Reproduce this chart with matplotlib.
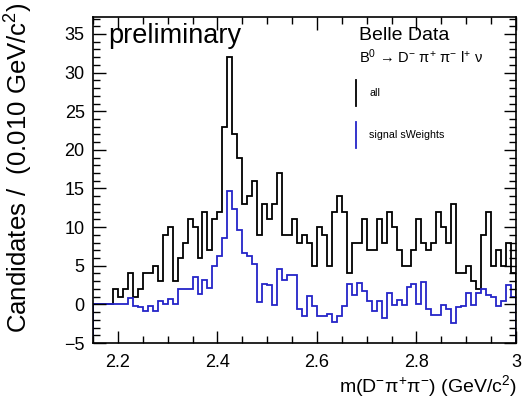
import numpy as np
import matplotlib
matplotlib.use("Agg")
from matplotlib import pyplot as plt
from matplotlib.ticker import MultipleLocator

plt.rcParams['font.family'] = ['Liberation Sans', 'DejaVu Sans']
plt.rcParams['mathtext.fontset'] = 'custom'
plt.rcParams['mathtext.rm'] = 'Liberation Sans'
plt.rcParams['mathtext.it'] = 'Liberation Sans:italic'
plt.rcParams['mathtext.sf'] = 'Liberation Sans'

# m(D pi pi) histogram, 0.010 GeV bins from 2.15 to 3.00
m_lo = 2.15
m_hi = 3.00
bin_width = 0.010

# all candidates (counts per bin)
counts_all = [0, 0, 0, 0, 2, 1, 2, 4, 1, 2,
              4, 4, 5, 3, 9, 10, 3, 6, 8, 11,
              10, 6, 12, 7, 11, 12, 23, 32, 22, 19,
              13, 14, 16, 9, 13, 11, 13, 17, 9, 9,
              11, 8, 9, 8, 5, 10, 9, 5, 12, 14,
              12, 4, 8, 8, 11, 7, 7, 11, 8, 12,
              10, 7, 5, 5, 7, 11, 8, 7, 8, 12,
              10, 8, 13, 4, 4, 5, 3, 2, 9, 12,
              5, 7, 5, 8, 4]

# signal-weighted yields
counts_sw = [0.0, 0.0, 0.0, 0.0, 0.0, 0.0, 0.0, 0.8, -0.2, -0.3,
             -0.8, -0.2, -0.8, 0.4, 0.0, 0.7, 0.0, 2.0, 2.0, 2.0,
             3.5, 1.3, 3.2, 2.1, 5.0, 6.3, 8.6, 14.7, 12.4, 9.6,
             6.7, 6.3, 5.2, 0.3, 2.7, 2.5, -0.1, 4.6, 3.1, 3.8,
             3.8, -0.6, -1.5, 1.1, -0.2, -1.5, -1.5, -1.2, -2.3, -1.5,
             -0.2, 2.6, 1.2, 2.8, 1.7, 0.4, -0.9, 0.4, -1.7, 1.5,
             -0.1, 0.6, -0.1, 2.3, 2.7, 0.1, 2.9, -0.6, -1.4, -1.4,
             -0.1, -0.6, -2.4, -0.4, -0.2, 1.5, -0.1, 1.5, 2.0, 1.2,
             0.9, -0.2, 0.45, 2.5, 0.9]

y_lo = -5
y_hi = 37.2

edges = m_lo + bin_width * np.arange(len(counts_all) + 1)

fig = plt.figure(figsize=(5.23, 4.01), dpi=100)
ax = fig.add_axes([93 / 523, 58 / 401, 423 / 523, 326 / 401])

ax.stairs(counts_all, edges, baseline=y_lo, color='black', lw=1.3)
ax.stairs(counts_sw, edges, baseline=y_lo, color='#2424c8', lw=1.3)

ax.set_xlim(m_lo, m_hi)
ax.set_ylim(y_lo, y_hi)

ax.xaxis.set_major_locator(MultipleLocator(0.2))
ax.xaxis.set_minor_locator(MultipleLocator(0.05))
ax.yaxis.set_major_locator(MultipleLocator(5))
ax.yaxis.set_minor_locator(MultipleLocator(1))
ax.xaxis.set_major_formatter(matplotlib.ticker.FuncFormatter(lambda v, p: '%g' % round(v, 2)))

ax.tick_params(which='both', direction='in', top=True, right=True,
               width=1.0, labelsize=13)
ax.tick_params(which='major', length=9)
ax.tick_params(which='minor', length=5)
ax.tick_params(axis='x', pad=8)
ax.tick_params(axis='y', pad=6)
for s in ax.spines.values():
    s.set_linewidth(1.2)

fig.text(19 / 523, 1 - 2 / 401, 'Candidates /  (0.010 GeV/c$^{2}$)',
         rotation=90, ha='center', va='top', fontsize=18.5)
fig.text(517 / 523, 1 - 386 / 401, 'm(D$^{-}$π$^{+}$π$^{-}$) (GeV/c$^{2}$)',
         ha='right', va='center', fontsize=14)

ax.text(108 / 523, 1 - 36 / 401, 'preliminary', transform=fig.transFigure,
        ha='left', va='center', fontsize=19.5)
ax.text(359 / 523, 1 - 35 / 401, 'Belle Data', transform=fig.transFigure,
        ha='left', va='center', fontsize=14)
ax.text(359 / 523, 1 - 57 / 401,
        'B$^{0}$ → D$^{-}$ π$^{+}$ π$^{-}$ l$^{+}$ ν', transform=fig.transFigure,
        ha='left', va='center', fontsize=10.5)

# legend entries drawn as short vertical markers
fig.add_artist(plt.Line2D([356 / 523, 356 / 523], [1 - 80 / 401, 1 - 106 / 401],
                          color='black', lw=1.3))
fig.add_artist(plt.Line2D([356 / 523, 356 / 523], [1 - 122 / 401, 1 - 148 / 401],
                          color='#2424c8', lw=1.3))
fig.text(369 / 523, 1 - 93 / 401, 'all', ha='left', va='center', fontsize=7.7)
fig.text(369 / 523, 1 - 135 / 401, 'signal sWeights', ha='left', va='center', fontsize=7.7)

fig.savefig('out.png', dpi=100)
